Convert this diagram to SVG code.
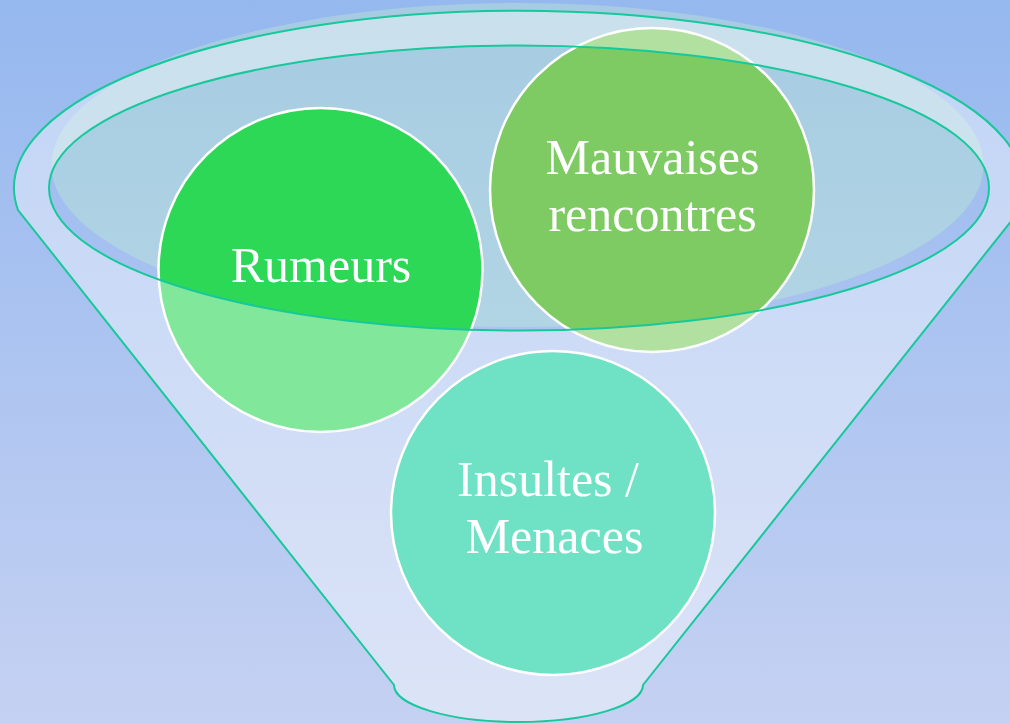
<svg xmlns="http://www.w3.org/2000/svg" width="1010" height="723" viewBox="0 0 1010 723">
  <defs>
    <linearGradient id="bg" x1="0" y1="0" x2="0" y2="1">
      <stop offset="0" stop-color="#95B8EF"/>
      <stop offset="1" stop-color="#C5D1F2"/>
    </linearGradient>
    <linearGradient id="hl" x1="0" y1="0" x2="0" y2="1">
      <stop offset="0" stop-color="#A6CBE2"/>
      <stop offset="1" stop-color="#B1D5E4"/>
    </linearGradient>
  </defs>
  <style>
    .node circle { stroke: #FFFFFF; stroke-width: 2.5; }
    .node text { font-family: "Liberation Serif", "DejaVu Serif", serif; font-size: 50px; fill: #FFFFFF; text-anchor: middle; }
    .front { fill: #FFFFFF; fill-opacity: 0.4; fill-rule: evenodd; }
    .edge { fill: none; stroke: #17C89B; stroke-width: 2; }
  </style>

  <rect x="0" y="0" width="1010" height="723" fill="url(#bg)"/>

  <g id="funnel-back">
    <ellipse cx="517.5" cy="165" rx="466" ry="162" fill="url(#hl)"/>
  </g>

  <g id="node-rumeurs" class="node">
    <circle cx="320.5" cy="270" r="162" fill="#2ED857"/>
    <text x="321" y="282">Rumeurs</text>
  </g>

  <g id="node-mauvaises" class="node">
    <circle cx="652" cy="190" r="162" fill="#7DCB62"/>
    <text x="652.5" y="174">Mauvaises</text>
    <text x="652.5" y="231">rencontres</text>
  </g>

  <g id="node-insultes" class="node">
    <circle cx="553" cy="513" r="162" fill="#10CFA0"/>
    <text x="548" y="496">Insultes /</text>
    <text x="554.5" y="553">Menaces</text>
  </g>

  <g id="funnel-front">
    <path class="front" d="M 18 210 A 505 177 0 1 1 1020 210 L 643 685 A 124.5 37 0 0 1 394 685 Z M 49 188 A 470 142.5 0 1 0 989 188 A 470 142.5 0 1 0 49 188 Z"/>
    <path class="edge" d="M 18 210 A 505 177 0 1 1 1020 210 L 643 685 A 124.5 37 0 0 1 394 685 Z"/>
    <ellipse class="edge" cx="519" cy="188" rx="470" ry="142.5"/>
  </g>
</svg>
